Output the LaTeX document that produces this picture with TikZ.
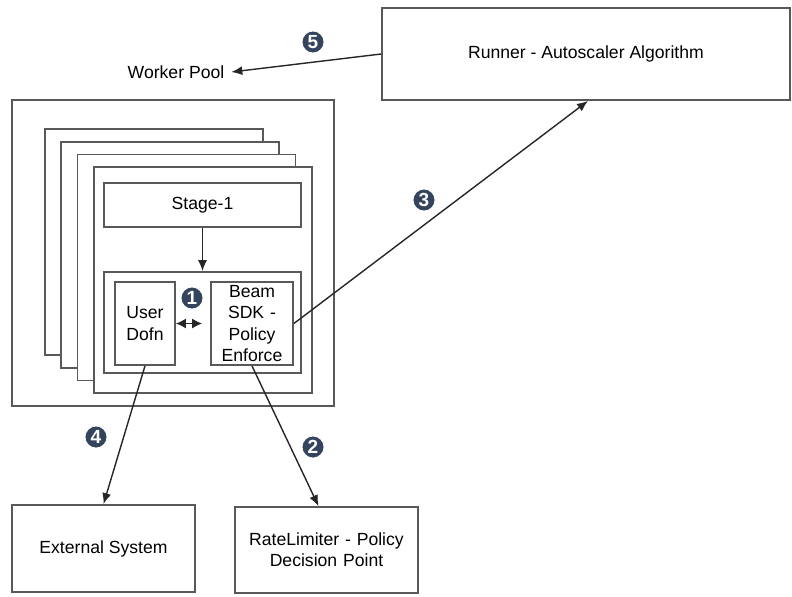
\documentclass[tikz,border=0pt]{standalone}
\usepackage{fontspec}
\setmainfont{Liberation Sans}
\usepackage{xcolor}
\usetikzlibrary{arrows,arrows.meta,positioning}
\definecolor{badgeblue}{HTML}{34445C}

\begin{document}
\begin{tikzpicture}[
    x=0.5pt, y=-0.5pt,
    >={Latex[length=5.5pt,width=4.5pt]},
    font=\fontsize{8.8}{10.6}\selectfont,
    block/.style={
		rectangle,
		draw=black!65,
		line width=0.9pt,
		text centered,
		inner sep=1pt,
		fill=white
	},
	page/.style={
		block,
		minimum width=109pt,
		minimum height=113pt
	},
	badge/.style={
		circle,
		fill=badgeblue,
		draw=white,
		line width=0.4pt,
		text=white,
		inner sep=0pt,
		minimum size=11pt,
		font=\fontsize{9.5}{10}\selectfont\bfseries
	},
	flow/.style={
		draw=black!85,
		line width=0.7pt,
		->
	}
  ]
  \useasboundingbox (0,0) rectangle (792,596);

    % runner and the worker pool
  \node [block, minimum width=204pt, minimum height=46pt] (runner) at (586,54) {Runner - Autoscaler Algorithm};
  \node (pool) at (176,72) {Worker Pool};

    % the workers, stacked
  \node [block, minimum width=161pt, minimum height=153pt] (outer) at (173,253) {};
  \foreach \i in {0,...,3}
    \node [page] (page\i) at (154+16.2*\i, 242+12.7*\i) {};

  \node [block, minimum width=98.5pt, minimum height=22pt] (stage) at (202.5,205) {Stage-1};
  \node [block, minimum width=98.5pt, minimum height=50.5pt] (bundle) at (202.5,322.5) {};
  \node [block, minimum width=30pt, minimum height=41.5pt, text width=28pt] (dofn) at (145,323.5) {User\\Dofn};
  \node [block, minimum width=41pt, minimum height=41.5pt, text width=40pt, inner sep=0pt] (sdk) at (252,323.5) {Beam\\SDK -\\Policy\\Enforce};

    % outside systems
  \node [block, minimum width=91.5pt, minimum height=43.5pt] (extsys) at (103.5,548.5) {External System};
  \node [block, minimum width=91.5pt, minimum height=43pt, text width=88pt] (limiter) at (326.5,550) {RateLimiter - Policy\\Decision Point};

 \draw [flow] (stage) -- (bundle);
 \draw [flow, {Latex[length=5pt,width=5pt]}-{Latex[length=5pt,width=5pt]}] (dofn.east) -- ([xshift=-4pt]sdk.west);
 \draw [flow] (sdk.east) -- ([xshift=1pt]runner.south);
 \draw [flow] (dofn.south) -- (extsys.north);
 \draw [flow] (sdk.south) -- ([xshift=-4pt]limiter.north);
 \draw [flow] (runner.west) -- (pool.east);

    % step numbers
 \node [badge] (b1) at (192,298) {1};
 \node [badge] (b2) at (313,447) {2};
 \node [badge] (b3) at (424,200) {3};
 \node [badge] (b4) at (96,437) {4};
 \node [badge] (b5) at (313,42) {5};

\end{tikzpicture}
\end{document}
